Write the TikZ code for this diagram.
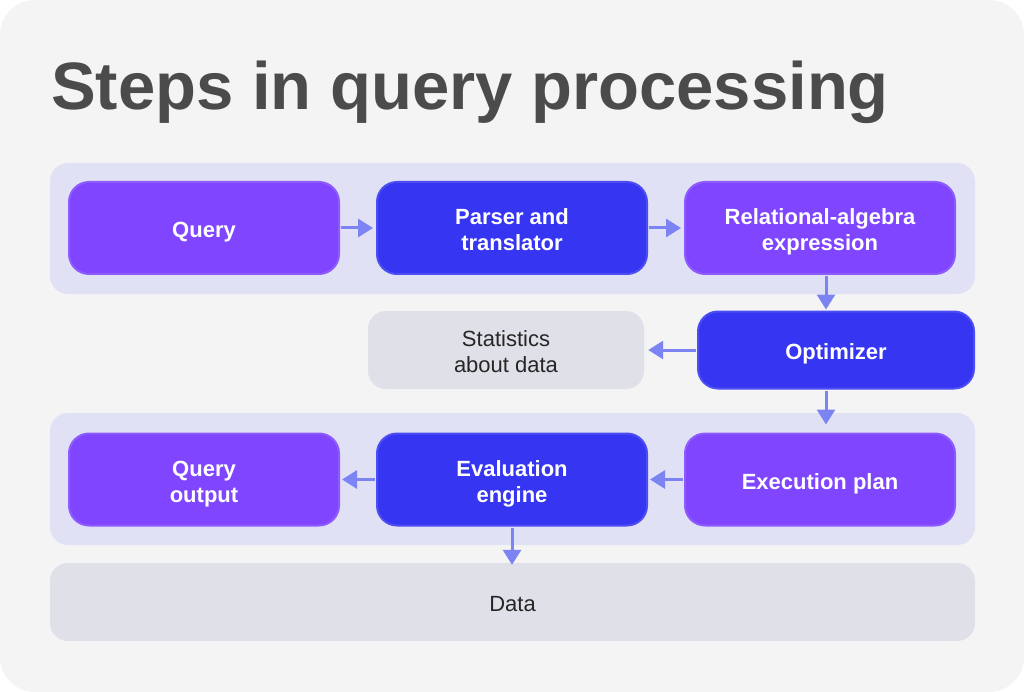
\documentclass[tikz,border=0pt]{standalone}
\usepackage{fontspec}
\setmainfont{Liberation Sans}
\usepackage{tikz}
\usetikzlibrary{arrows.meta}
\definecolor{bgc}{HTML}{F4F4F5}
\definecolor{bandc}{HTML}{E1E1F6}
\definecolor{greyc}{HTML}{E0E0E9}
\definecolor{purp}{HTML}{7F45FF}
\definecolor{blu}{HTML}{3535F2}
\definecolor{arrc}{HTML}{7B84F2}
\definecolor{titc}{HTML}{4B4B4B}
\newcommand\boxlines[1]{\raisebox{-9.5pt}[0pt][0pt]{\begin{tabular}{@{}c@{}}#1\end{tabular}}}

\begin{document}
\begin{tikzpicture}[x=1pt,y=-1pt,
  box/.style={rounded corners=20pt, minimum width=270pt, minimum height=92pt, inner sep=0pt,
    text=white, font=\fontsize{22}{26}\selectfont\bfseries, line width=2pt},
  pbox/.style={box, fill=purp, draw=purp!88!white},
  bbox/.style={box, fill=blu, draw=blu!88!white},
  gbox/.style={rounded corners=18pt, fill=greyc, inner sep=0pt,
    text=black!85, font=\fontsize{22}{26}\selectfont},
  band/.style={rounded corners=18pt, fill=bandc},
  flow/.style={draw=arrc, line width=3pt, -{Triangle[length=15pt,width=18pt]}}]
\useasboundingbox (0,0) rectangle (1024,692);
\fill[white] (0,0) rectangle (1024,692);
\fill[bgc] (0,0) [rounded corners=35pt] rectangle (1024,692);
\node[anchor=base west, inner sep=0pt, text=titc, font=\fontsize{67}{80}\selectfont\bfseries] (title) at (51,110) {Steps in query processing};
% bands
\fill[band] (50,163) rectangle (975,294);
\fill[band] (50,413) rectangle (975,545);
% first row
\node[pbox] (query) at (204,228) {\boxlines{Query}};
\node[bbox] (parser) at (512,228) {\boxlines{Parser and\\translator}};
\node[pbox] (rel) at (820,228) {\boxlines{Relational-algebra\\expression}};
% middle row
\node[gbox, minimum width=276pt, minimum height=78pt] (stats) at (506,350) {\boxlines{Statistics\\about data}};
\node[bbox, minimum width=276pt, minimum height=77pt] (opt) at (836,350) {\boxlines{Optimizer}};
% second row
\node[pbox] (qout) at (204,479.5) {\boxlines{Query\\output}};
\node[bbox] (eval) at (512,479.5) {\boxlines{Evaluation\\engine}};
\node[pbox] (exec) at (820,479.5) {\boxlines{Execution plan}};
\node[gbox, minimum width=925pt, minimum height=78pt] (data) at (512.5,602) {\boxlines{Data}};
% arrows
\draw[flow, shorten <=1pt, shorten >=3pt] (query.east) -- (parser.west);
\draw[flow, shorten <=1pt, shorten >=3pt] (parser.east) -- (rel.west);
\draw[flow, shorten <=1pt, shorten >=1pt] ([xshift=6pt]rel.south) -- ([xshift=-10pt]opt.north);
\draw[flow, shorten <=1pt, shorten >=4pt] (opt.west) -- (stats.east);
\draw[flow, shorten <=1pt, shorten >=8pt] ([xshift=-10pt]opt.south) -- ([xshift=6pt]exec.north);
\draw[flow, shorten <=1pt, shorten >=2pt] (exec.west) -- (eval.east);
\draw[flow, shorten <=1pt, shorten >=2pt] (eval.west) -- (qout.east);
\draw[flow, shorten <=1pt, shorten >=-2pt] (eval.south) -- (eval.south |- data.north);
\end{tikzpicture}
\end{document}
